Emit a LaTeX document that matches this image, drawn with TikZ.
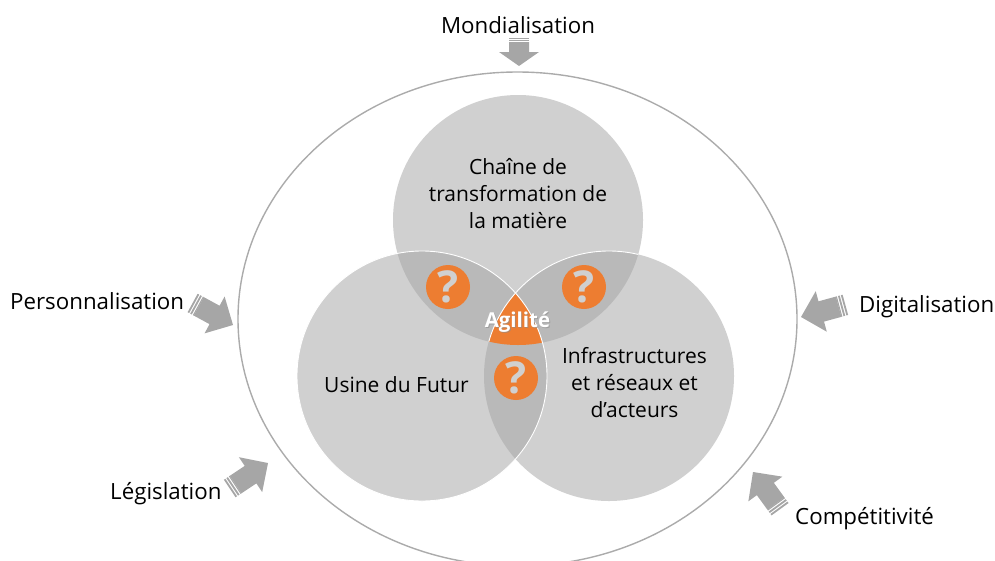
\documentclass[tikz,border=0pt]{standalone}
\usepackage{fontspec}
\usetikzlibrary{shapes.geometric}
\setmainfont{Open Sans}
\definecolor{circ}{HTML}{D0D0D0}
\definecolor{lens}{HTML}{B9B9B9}
\definecolor{orng}{HTML}{ED7D31}
\definecolor{arw}{HTML}{A6A6A6}
\definecolor{ringc}{HTML}{ABABAB}
\tikzset{
  lbl/.style={font=\fontsize{21}{27}\selectfont,text=black,align=center,inner sep=0pt},
  outl/.style={font=\fontsize{22.3}{27}\selectfont,text=black,align=center,inner sep=0pt},
  qmark/.style={circle,fill=orng,minimum size=44pt,inner sep=0pt,text=circ,font=\fontsize{44}{44}\selectfont\bfseries},
  bigc/.style={circle,minimum size=250pt,inner sep=0pt},
}
% tip, angle, L, head length, head half width, shaft half width, stripe scale
\newcommand{\blockarrow}[8]{%
  \begin{scope}[shift={(#1,#2)},rotate=#3]
    \fill[arw] (0,0) -- (-#5,#6) -- (-#5,#7) -- ({-#4+7*#8},#7) -- ({-#4+7*#8},-#7) -- (-#5,-#7) -- (-#5,-#6) -- cycle;
    \fill[arw] (-#4,-#7) rectangle ({-#4+1.8*#8},#7);
    \fill[arw] ({-#4+3*#8},-#7) rectangle ({-#4+4.8*#8},#7);
    \fill[arw] ({-#4+6*#8},-#7) rectangle ({-#4+7.1*#8},#7);
  \end{scope}}
\begin{document}
\begin{tikzpicture}[x=1pt,y=-1pt]
\useasboundingbox (0,0) rectangle (995,560);
\begin{scope}
\clip (0,0) rectangle (995,560);
\node[ellipse,minimum width=559pt,minimum height=494pt,inner sep=0pt,draw=ringc,line width=1.4pt] (ring) at (517.5,319) {};
\end{scope}
% circles
\coordinate (ct) at (518,220);
\coordinate (cl) at (422,376);
\coordinate (cr) at (609,376);
\node[bigc,fill=circ] (top) at (ct) {};
\node[bigc,fill=circ] (left) at (cl) {};
\node[bigc,fill=circ] (right) at (cr) {};
\begin{scope}
  \clip (ct) circle (125); \fill[lens] (cl) circle (125);
\end{scope}
\begin{scope}
  \clip (ct) circle (125); \fill[lens] (cr) circle (125);
\end{scope}
\begin{scope}
  \clip (cl) circle (125); \fill[lens] (cr) circle (125);
\end{scope}
\begin{scope}
  \clip (ct) circle (125); \clip (cl) circle (125); \fill[orng] (cr) circle (125);
\end{scope}
\draw[white,line width=0.9pt] (cl) circle (125);
\begin{scope}
  \clip (ct) circle (125);
  \draw[white,line width=0.9pt] (cr) circle (125);
\end{scope}
% labels inside
\node[lbl] (t1) at (518,194) {Chaîne de\\transformation de\\la matière};
\node[lbl] (t2) at (396.5,385) {Usine du Futur};
\node[lbl] (t3) at (634.5,383) {Infrastructures\\et réseaux et\\d’acteurs};
\node[qmark] (q1) at (448,287) {?};
\node[qmark] (q2) at (584,287) {?};
\node[qmark] (q3) at (516,378) {?};
\node[font=\fontsize{20.5}{22}\selectfont\bfseries,text=black!45,opacity=.6,inner sep=0pt] (agshadow) at (518.5,323.5) {Agilité};
\node[font=\fontsize{20.5}{22}\selectfont\bfseries,text=white,inner sep=0pt] (ag) at (517.5,322) {Agilité};
% outer labels
\node[outl] (m) at (518,25) {Mondialisation};
\node[outl,anchor=west] (p) at (10,301) {Personnalisation};
\node[outl,anchor=west] (d) at (859,307) {Digitalisation};
\node[outl,anchor=west] (le) at (110,494) {Législation};
\node[outl,anchor=west] (c) at (795,519) {Compétitivité};
% arrows
\blockarrow{519}{66}{-90}{28}{14}{20}{10}{.6}
\blockarrow{233}{325}{-28.6}{46}{21}{21}{10.5}{1}
\blockarrow{268}{463}{33.7}{46}{21}{21}{10.5}{1}
\blockarrow{753}{472}{126}{46}{21}{21}{10.5}{1}
\blockarrow{801}{317}{195.3}{46}{21}{21}{10.5}{1}
\end{tikzpicture}
\end{document}
